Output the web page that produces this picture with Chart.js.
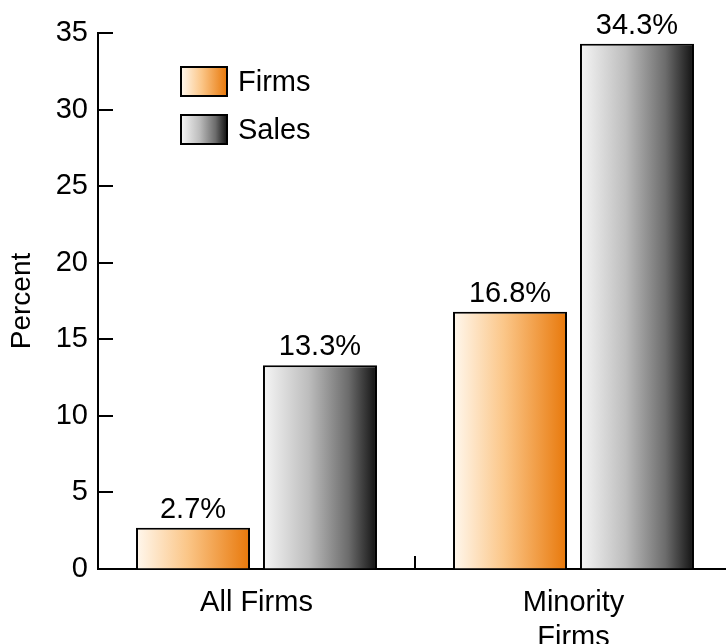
<!DOCTYPE html>
<html>
<head>
<meta charset="utf-8">
<script src="https://cdn.jsdelivr.net/npm/chart.js@4"></script>
<style>
  html, body { margin: 0; padding: 0; background: #fff; overflow: hidden; }
</style>
</head>
<body>
<canvas id="myChart" width="732" height="644"></canvas>
<script>
const categories = [['All Firms'], ['Minority', 'Firms']];
const seriesNames = ['Firms', 'Sales'];
const firms = [2.7, 16.8];
const sales = [13.3, 34.3];
const yMax = 35;
const yStep = 5;

const FONT = "'Liberation Sans', Arial, Helvetica, sans-serif";
const catPct = 0.801;
const barPct = 0.898;

// gradient stops, light on the left to dark on the right
const orangeStops = [[0, '#fff8ee'], [0.45, '#fbc688'], [1, '#e8780a']];
const greyStops = [[0, '#f6f6f6'], [0.4, '#bdbdbd'], [0.75, '#6c6c6c'], [1, '#111111']];

function makeGradient(c, x0, x1, stops) {
    const g = c.createLinearGradient(x0, 0, x1, 0);
    stops.forEach(s => g.addColorStop(s[0], s[1]));
    return g;
}

function barFill(context) {
    const chart = context.chart;
    const stops = context.datasetIndex === 0 ? orangeStops : greyStops;
    const xs = chart.scales.x;
    if (!chart.chartArea || !xs) return stops[1][1];
    const center = xs.getPixelForValue(context.dataIndex);
    const slot = (xs.width / categories.length) * catPct / 2;
    const slotLeft = context.datasetIndex === 0 ? center - slot : center;
    const bw = slot * barPct;
    const x0 = slotLeft + (slot - bw) / 2;
    return makeGradient(chart.ctx, x0, x0 + bw, stops);
}

const decorations = {
    id: 'decorations',
    afterDatasetsDraw(chart) {
        const c = chart.ctx;
        const area = chart.chartArea;
        const xs = chart.scales.x;
        const ys = chart.scales.y;
        c.save();
        c.strokeStyle = '#000';
        c.lineWidth = 2;
        // inward ticks on the y axis
        for (let v = 0; v <= yMax; v += yStep) {
            const y = Math.round(ys.getPixelForValue(v));
            c.beginPath();
            c.moveTo(area.left, y);
            c.lineTo(area.left + 15, y);
            c.stroke();
        }
        // divider tick between categories
        const mid = (xs.getPixelForValue(0) + xs.getPixelForValue(1)) / 2;
        c.beginPath();
        c.moveTo(mid, area.bottom);
        c.lineTo(mid, area.bottom - 13);
        c.stroke();

        // value labels
        c.fillStyle = '#000';
        c.font = '29px ' + FONT;
        c.textAlign = 'center';
        c.textBaseline = 'alphabetic';
        chart.data.datasets.forEach((ds, di) => {
            chart.getDatasetMeta(di).data.forEach((bar, i) => {
                c.fillText(ds.data[i].toFixed(1) + '%', bar.x, bar.y - 10);
            });
        });

        // legend
        const lx = area.left + 83;
        const boxW = 46, boxH = 29;
        [[67, orangeStops], [115, greyStops]].forEach((item, k) => {
            const top = item[0];
            c.fillStyle = makeGradient(c, lx, lx + boxW, item[1]);
            c.fillRect(lx, top, boxW, boxH);
            c.strokeStyle = '#000';
            c.lineWidth = 2;
            c.strokeRect(lx, top, boxW, boxH);
            c.fillStyle = '#000';
            c.textAlign = 'left';
            c.textBaseline = 'middle';
            c.fillText(seriesNames[k], lx + 57, top + boxH / 2 + 1);
        });
        c.restore();
    }
};

const barStyle = {
    backgroundColor: barFill,
    borderColor: '#000',
    borderWidth: 2,
    borderSkipped: 'start',
    categoryPercentage: catPct,
    barPercentage: barPct
};

new Chart(document.getElementById('myChart'), {
    type: 'bar',
    data: {
        labels: categories,
        datasets: [
            Object.assign({ label: seriesNames[0], data: firms }, barStyle),
            Object.assign({ label: seriesNames[1], data: sales }, barStyle)
        ]
    },
    options: {
        responsive: false,
        animation: false,
        layout: { padding: { top: 33, left: 0, right: 0, bottom: 0 } },
        plugins: {
            legend: { display: false },
            tooltip: { enabled: false },
            colors: { enabled: false }
        },
        scales: {
            x: {
                grid: { display: false },
                border: { display: true, color: '#000', width: 2 },
                ticks: { color: '#000', font: { family: FONT, size: 29 }, padding: 9, maxRotation: 0 },
                afterFit(scale) { scale.height = 75; }
            },
            y: {
                min: 0,
                max: yMax,
                grid: { display: true, drawOnChartArea: false, drawTicks: false },
                border: { display: true, color: '#000', width: 2 },
                ticks: { stepSize: yStep, color: '#000', font: { family: FONT, size: 29 }, padding: 10 },
                title: {
                    display: true,
                    text: 'Percent',
                    color: '#000',
                    font: { family: FONT, size: 28 },
                    padding: { top: 5, bottom: 0 }
                },
                afterFit(scale) { scale.width = 98; }
            }
        }
    },
    plugins: [decorations]
});
</script>
</body>
</html>
